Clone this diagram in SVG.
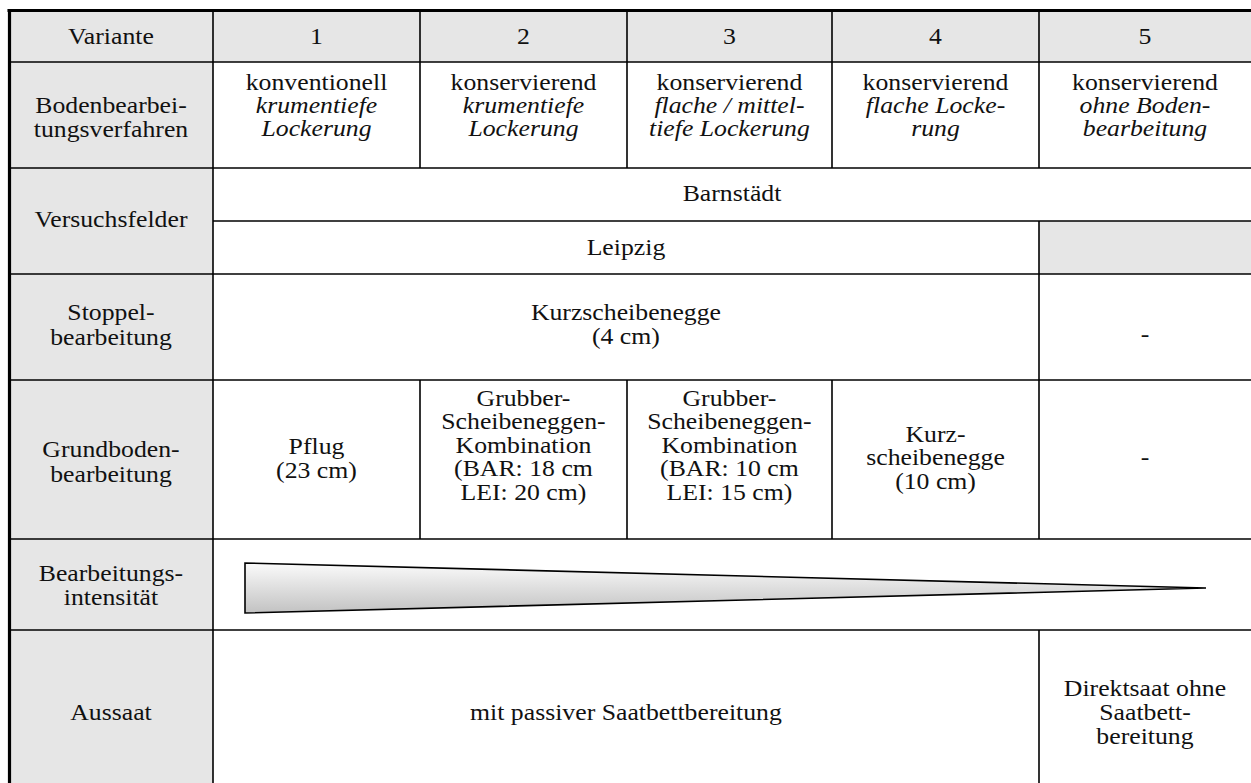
<svg xmlns="http://www.w3.org/2000/svg" width="1251" height="783" viewBox="0 0 1251 783">
<defs>
<linearGradient id="g" x1="0" y1="0" x2="0" y2="1">
<stop offset="0" stop-color="#fbfbfb"/>
<stop offset="1" stop-color="#c2c2c2"/>
</linearGradient>
<style>
text{font-family:"Liberation Serif","Times New Roman",serif;font-size:23px;fill:#111;text-anchor:middle}
.i{font-style:italic}
.grey{fill:#e6e6e6}
.ln{stroke:#000;stroke-width:1.6;fill:none}
.thick{stroke:#000;stroke-width:3.2;fill:none}
</style>
</defs>
<rect width="1251" height="783" fill="#fff"/>
<rect class="grey" x="9" y="10" width="204" height="773"/>
<rect class="grey" x="213" y="10" width="1038" height="52"/>
<rect class="grey" x="1039" y="221" width="212" height="53"/>
<g id="intensity-wedge">
<polygon points="245,563 245,613 1206,588" fill="url(#g)" stroke="#000" stroke-width="1.6" stroke-linejoin="miter"/>
</g>
<g id="grid">
<line class="ln" x1="9" y1="62" x2="1251" y2="62" stroke-width="2"/>
<line class="ln" x1="9" y1="168" x2="1251" y2="168"/>
<line class="ln" x1="213" y1="221" x2="1251" y2="221"/>
<line class="ln" x1="9" y1="274" x2="1251" y2="274"/>
<line class="ln" x1="9" y1="380" x2="1251" y2="380"/>
<line class="ln" x1="9" y1="539" x2="1251" y2="539"/>
<line class="ln" x1="9" y1="630" x2="1251" y2="630"/>
<line class="ln" x1="213" y1="10" x2="213" y2="783"/>
<line class="ln" x1="420" y1="10" x2="420" y2="168"/>
<line class="ln" x1="627" y1="10" x2="627" y2="168"/>
<line class="ln" x1="832" y1="10" x2="832" y2="168"/>
<line class="ln" x1="1039" y1="10" x2="1039" y2="168"/>
<line class="ln" x1="1039" y1="221" x2="1039" y2="539"/>
<line class="ln" x1="1039" y1="630" x2="1039" y2="783"/>
<line class="ln" x1="420" y1="380" x2="420" y2="539"/>
<line class="ln" x1="627" y1="380" x2="627" y2="539"/>
<line class="ln" x1="832" y1="380" x2="832" y2="539"/>
<line class="thick" x1="7.5" y1="10.5" x2="1251" y2="10.5"/>
<line class="thick" x1="9.5" y1="9" x2="9.5" y2="783"/>
</g>
<g transform="scale(1.12 1)">
<g id="header">
<text x="99.1" y="44">Variante</text>
<text x="282.6" y="44">1</text>
<text x="467.4" y="44">2</text>
<text x="651.3" y="44">3</text>
<text x="835.3" y="44">4</text>
<text x="1022.3" y="44">5</text>
</g>
<g id="row-verfahren">
<text x="99.1" y="113">Bodenbearbei-</text>
<text x="99.1" y="137">tungsverfahren</text>
<text x="282.6" y="90">konventionell</text>
<text class="i" x="282.6" y="113">krumentiefe</text>
<text class="i" x="282.6" y="136">Lockerung</text>
<text x="467.4" y="90">konservierend</text>
<text class="i" x="467.4" y="113">krumentiefe</text>
<text class="i" x="467.4" y="136">Lockerung</text>
<text x="651.3" y="90">konservierend</text>
<text class="i" x="651.3" y="113">flache / mittel-</text>
<text class="i" x="651.3" y="136">tiefe Lockerung</text>
<text x="835.3" y="90">konservierend</text>
<text class="i" x="835.3" y="113">flache Locke-</text>
<text class="i" x="835.3" y="136">rung</text>
<text x="1022.3" y="90">konservierend</text>
<text class="i" x="1022.3" y="113">ohne Boden-</text>
<text class="i" x="1022.3" y="136">bearbeitung</text>
</g>
<g id="row-versuchsfelder">
<text x="99.1" y="227">Versuchsfelder</text>
<text x="653.6" y="201">Barnstädt</text>
<text x="558.9" y="255">Leipzig</text>
</g>
<g id="row-stoppel">
<text x="99.1" y="320">Stoppel-</text>
<text x="99.1" y="345">bearbeitung</text>
<text x="558.9" y="320">Kurzscheibenegge</text>
<text x="558.9" y="344">(4 cm)</text>
<text x="1022.3" y="342">-</text>
</g>
<g id="row-grund">
<text x="99.1" y="457">Grundboden-</text>
<text x="99.1" y="482">bearbeitung</text>
<text x="282.6" y="454">Pflug</text>
<text x="282.6" y="478">(23 cm)</text>
<text x="467.4" y="406">Grubber-</text>
<text x="467.4" y="429">Scheibeneggen-</text>
<text x="467.4" y="453">Kombination</text>
<text x="467.4" y="476">(BAR: 18 cm</text>
<text x="467.4" y="500">LEI: 20 cm)</text>
<text x="651.3" y="406">Grubber-</text>
<text x="651.3" y="429">Scheibeneggen-</text>
<text x="651.3" y="453">Kombination</text>
<text x="651.3" y="476">(BAR: 10 cm</text>
<text x="651.3" y="500">LEI: 15 cm)</text>
<text x="835.3" y="442">Kurz-</text>
<text x="835.3" y="465">scheibenegge</text>
<text x="835.3" y="489">(10 cm)</text>
<text x="1022.3" y="465">-</text>
</g>
<g id="row-intensitaet">
<text x="99.1" y="581">Bearbeitungs-</text>
<text x="99.1" y="605">intensität</text>
</g>
<g id="row-aussaat">
<text x="99.1" y="720">Aussaat</text>
<text x="558.9" y="720">mit passiver Saatbettbereitung</text>
<text x="1022.3" y="696">Direktsaat ohne</text>
<text x="1022.3" y="720">Saatbett-</text>
<text x="1022.3" y="744">bereitung</text>
</g>
</g>
</svg>
